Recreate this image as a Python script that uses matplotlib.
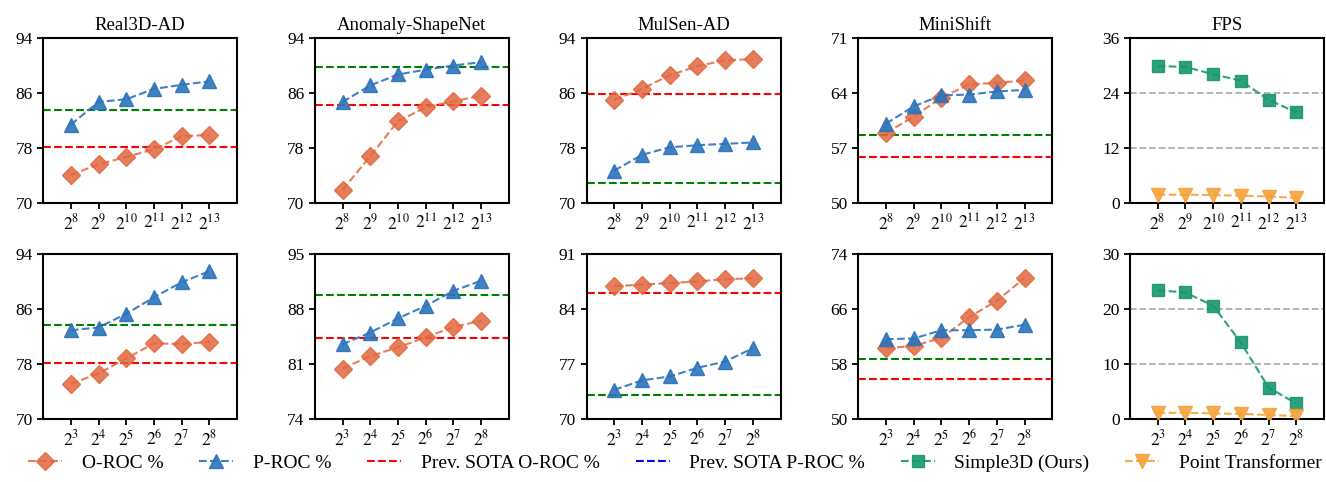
import numpy as np
import matplotlib
matplotlib.use("Agg")
import matplotlib.pyplot as plt
from matplotlib.lines import Line2D

plt.rcParams['font.family'] = ['Liberation Serif', 'DejaVu Serif']
plt.rcParams['mathtext.fontset'] = 'stix'

titles = ['Real3D-AD', 'Anomaly-ShapeNet', 'MulSen-AD', 'MiniShift', 'FPS']

# top row: number of points 2^8 .. 2^13
top_labels = ['$2^{8}$', '$2^{9}$', '$2^{10}$', '$2^{11}$', '$2^{12}$', '$2^{13}$']
# bottom row: 2^3 .. 2^8
bottom_labels = ['$2^{3}$', '$2^{4}$', '$2^{5}$', '$2^{6}$', '$2^{7}$', '$2^{8}$']

# top row values
top_oroc = [
    [74.1, 75.6, 76.7, 77.8, 79.7, 79.9],
    [71.9, 76.8, 81.9, 83.9, 84.8, 85.6],
    [85.0, 86.6, 88.6, 89.9, 90.8, 90.9],
    [58.9, 61.0, 63.4, 65.1, 65.3, 65.6],
]
top_proc = [
    [81.4, 84.7, 85.1, 86.6, 87.2, 87.7],
    [84.7, 87.1, 88.7, 89.4, 90.0, 90.5],
    [74.7, 77.0, 78.1, 78.4, 78.6, 78.8],
    [60.1, 62.3, 63.7, 63.8, 64.2, 64.4],
]
top_sota_oroc = [78.2, 84.2, 85.9, 55.8]
top_sota_proc = [83.6, 89.8, 72.9, 58.7]
top_simple3d = [29.9, 29.7, 28.1, 26.7, 22.5, 19.8]
top_pt = [1.8, 1.8, 1.7, 1.6, 1.4, 1.1]
top_ylims = [(70, 94), (70, 94), (70, 94), (50, 71), (0, 36)]

# bottom row values
bot_oroc = [
    [75.1, 76.6, 78.8, 81.0, 80.9, 81.2],
    [80.4, 82.0, 83.1, 84.4, 85.7, 86.5],
    [86.9, 87.1, 87.3, 87.5, 87.8, 87.9],
    [60.3, 60.6, 61.8, 64.8, 67.2, 70.5],
]
bot_proc = [
    [82.9, 83.3, 85.3, 87.7, 89.9, 91.5],
    [83.5, 85.0, 86.8, 88.4, 90.3, 91.6],
    [73.7, 74.9, 75.4, 76.5, 77.3, 79.0],
    [61.6, 61.7, 62.9, 62.9, 63.0, 63.7],
]
bot_sota_oroc = [78.2, 84.3, 86.0, 55.8]
bot_sota_proc = [83.6, 89.8, 73.0, 58.7]
bot_simple3d = [23.4, 23.0, 20.6, 13.9, 5.7, 2.8]
bot_pt = [1.1, 1.1, 1.0, 0.9, 0.7, 0.5]
bot_ylims = [(70, 94), (74, 95), (70, 91), (50, 74), (0, 30)]

c_oroc = '#e2673f'
c_proc = '#2b73bb'
c_s3d = '#17966f'
c_pt = '#f5a23a'

fig, axes = plt.subplots(2, 5, figsize=(13.26, 4.82), dpi=100)
fig.subplots_adjust(left=0.0325, right=0.9985, top=0.921, bottom=0.131,
                    wspace=0.40, hspace=0.31)

x = np.arange(6)
rows = [
    (top_labels, top_oroc, top_proc, top_sota_oroc, top_sota_proc, top_simple3d, top_pt, top_ylims),
    (bottom_labels, bot_oroc, bot_proc, bot_sota_oroc, bot_sota_proc, bot_simple3d, bot_pt, bot_ylims),
]

for r, (labels, oroc, proc, s_o, s_p, s3d, pt, ylims) in enumerate(rows):
    for c in range(5):
        ax = axes[r, c]
        if c < 4:
            ax.axhline(s_o[c], color='red', ls='--', lw=1.5, zorder=1)
            ax.axhline(s_p[c], color='green', ls='--', lw=1.5, zorder=1)
            ax.plot(x, oroc[c], ls='--', color=c_oroc, marker='D', ms=9.5,
                    lw=1.5, alpha=0.85, zorder=3)
            ax.plot(x, proc[c], ls='--', color=c_proc, marker='^', ms=9.5,
                    lw=1.5, alpha=0.9, zorder=3)
        else:
            ax.yaxis.grid(True, ls='--', color='#b0b0b0', lw=1.3)
            ax.plot(x, s3d, ls='--', color=c_s3d, marker='s', ms=8.5,
                    lw=1.5, alpha=0.9, zorder=3)
            ax.plot(x, pt, ls='--', color=c_pt, marker='v', ms=9.5,
                    lw=1.5, alpha=0.9, zorder=3)
        lo, hi = ylims[c]
        ax.set_ylim(lo, hi)
        ax.set_yticks(np.linspace(lo, hi, 4))
        ax.set_yticklabels([str(int(round(v))) for v in np.linspace(lo, hi, 4)])
        ax.set_xlim(-1, 6)
        ax.set_xticks(x)
        ax.set_xticklabels(labels)
        ax.tick_params(labelsize=12.5, width=1.3, length=4)
        for s in ax.spines.values():
            s.set_linewidth(1.5)
        if r == 0:
            ax.set_title(titles[c], fontsize=13.5)

handles = [
    Line2D([], [], ls='--', color=c_oroc, marker='D', ms=9.5, lw=1.5, alpha=0.85),
    Line2D([], [], ls='--', color=c_proc, marker='^', ms=9.5, lw=1.5, alpha=0.9),
    Line2D([], [], ls='--', color='red', lw=1.5),
    Line2D([], [], ls='--', color='blue', lw=1.5),
    Line2D([], [], ls='--', color=c_s3d, marker='s', ms=8.5, lw=1.5, alpha=0.9),
    Line2D([], [], ls='--', color=c_pt, marker='v', ms=9.5, lw=1.5, alpha=0.9),
]
names = ['O-ROC %', 'P-ROC %', 'Prev. SOTA O-ROC %', 'Prev. SOTA P-ROC %',
         'Simple3D (Ours)', 'Point Transformer']
fig.legend(handles, names, loc='lower center', ncol=6, frameon=False,
           fontsize=14, columnspacing=1.85, handlelength=1.75, handletextpad=1.0,
           bbox_to_anchor=(0.509, -0.015))

fig.savefig('out.png', dpi=100)
